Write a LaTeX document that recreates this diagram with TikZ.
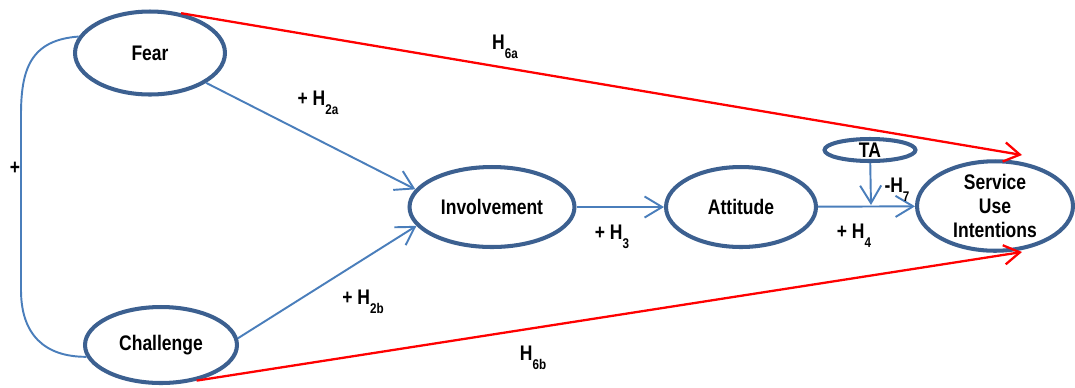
\documentclass[tikz,border=0pt]{standalone}
\usepackage{fontspec}
\setmainfont{Liberation Sans}[FakeStretch=0.83]
\usetikzlibrary{shapes.geometric,arrows.meta,positioning}
\definecolor{ovalblue}{HTML}{3C6090}
\definecolor{linkblue}{HTML}{4A7EBB}
\newcommand{\hlab}[2]{#1H\raisebox{-5pt}{\fontsize{8}{8}\selectfont #2}}
\begin{document}
\begin{tikzpicture}[x=0.02cm,y=-0.02cm,
  construct/.style={ellipse,draw=ovalblue,line width=2.3pt,inner sep=0pt,font=\fontsize{12}{13.6}\selectfont\bfseries},
  link/.style={draw=linkblue,line width=1.1pt,-{Straight Barb[length=10pt,width=12pt]}},
  direct/.style={draw=red,line width=1.3pt,-{Straight Barb[length=9pt,width=11pt]}},
  hyp/.style={inner sep=0pt,font=\fontsize{12}{13.6}\selectfont\bfseries}]
  \useasboundingbox (0,0) rectangle (1075,387);

    % The constructs
	\node [construct,minimum width=3.0cm,minimum height=1.66cm] at (150,53) (fear) {Fear};
	\node [construct,minimum width=3.04cm,minimum height=1.52cm] at (161,345) (challenge) {Challenge};
	\node [construct,minimum width=3.3cm,minimum height=1.6cm] at (492,207) (involve) {Involvement};
	\node [construct,minimum width=3.0cm,minimum height=1.6cm] at (741,207) (attitude) {Attitude};
	\node [construct,minimum width=1.82cm,minimum height=0.44cm] at (870,150) (ta) {TA};
	\node [construct,align=center,minimum width=3.12cm,minimum height=1.64cm] at (995,206) (sui) {Service\\Use\\Intentions};

	\coordinate (h6aend) at (1022,155);
	\coordinate (h6bend) at (1022,252);
	\coordinate (tajoin) at (871,205);

	% Construct links
	\path
	(fear.-28) edge[link] (involve.167)
	(challenge.5) edge[link] (involve.194)
	(involve) edge[link] (attitude)
	(attitude) edge[link] (sui)
	(ta) edge[link] (tajoin)
	(fear.52) edge[direct] (h6aend)
	(challenge.-45) edge[direct] (h6bend);

	% Correlation between the appraisals
	\draw[linkblue,line width=1.1pt] (fear.167) .. controls (30,40) and (21,70) .. (21,115)
	  -- (21,290) .. controls (21,335) and (45,357) .. (challenge.189);

	% Hypothesis labels
	\node [hyp] at (15,168) (corr) {+};
	\node [hyp] at (318,103) (h2a) {\hlab{+ }{2a}};
	\node [hyp] at (363,302) (h2b) {\hlab{+ }{2b}};
	\node [hyp] at (612,237) (h3) {\hlab{+ }{3}};
	\node [hyp] at (854,236) (h4) {\hlab{+ }{4}};
	\node [hyp] at (897,190) (h7) {\hlab{-}{7}};
	\node [hyp] at (505,47) (h6a) {\hlab{}{6a}};
	\node [hyp] at (533,358) (h6b) {\hlab{}{6b}};

\end{tikzpicture}
\end{document}
